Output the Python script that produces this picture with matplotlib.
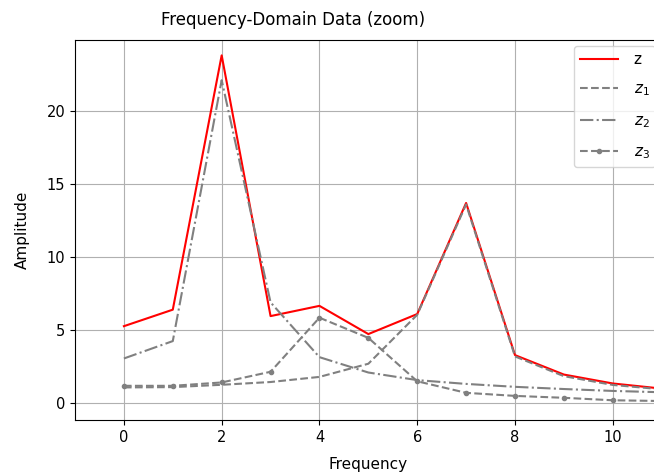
import numpy as np
import matplotlib
matplotlib.use("Agg")
import matplotlib.pyplot as plt

freq = np.arange(12)
z = [5.27, 6.4, 23.8, 5.96, 6.66, 4.73, 6.1, 13.7, 3.29, 1.96, 1.35, 1.0]
z1 = [1.08, 1.1, 1.26, 1.45, 1.8, 2.7, 6.05, 13.6, 3.2, 1.85, 1.25, 0.95]
z2 = [3.06, 4.25, 22.1, 6.9, 3.15, 2.1, 1.58, 1.32, 1.12, 0.97, 0.84, 0.75]
z3 = [1.19, 1.19, 1.42, 2.15, 5.85, 4.47, 1.5, 0.71, 0.5, 0.37, 0.2, 0.15]

fig = plt.figure(figsize=(6.54, 4.74), dpi=100)
ax = fig.add_axes([0.1147, 0.1139, 0.897, 0.8017])

ax.plot(freq, z, color="red", lw=1.5, label="z")
ax.plot(freq, z1, "--", color="gray", lw=1.5, label="$z_1$")
ax.plot(freq, z2, "-.", color="gray", lw=1.5, label="$z_2$")
ax.plot(freq, z3, "--", marker=".", color="gray", lw=1.5, label="$z_3$")

ax.set_xlim(-1, 11)
ax.set_ylim(-1.15, 24.85)
ax.set_xticks([0, 2, 4, 6, 8, 10])
ax.set_yticks([0, 5, 10, 15, 20])
ax.tick_params(labelsize=10.5)
ax.grid(True)
ax.set_title("Frequency-Domain Data (zoom)", x=0.371, pad=11)
ax.set_xlabel("Frequency", labelpad=9, fontsize=11)
ax.set_ylabel("Amplitude", labelpad=12, fontsize=11)
ax.legend(loc="upper right", fontsize=11, labelspacing=0.95,
          handlelength=2.5, handletextpad=1.0, borderaxespad=0.4)

fig.savefig("out.png", dpi=100)
